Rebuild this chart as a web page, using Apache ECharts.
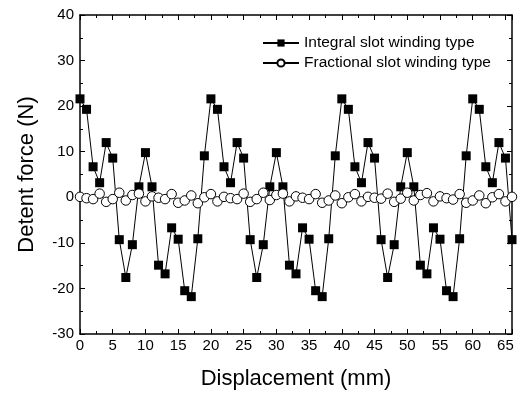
<!DOCTYPE html>
<html>
<head>
<meta charset="utf-8">
<script src="https://cdn.jsdelivr.net/npm/echarts@6/dist/echarts.min.js"></script>
<style>html,body{margin:0;padding:0;background:#fff;}#c{width:523px;height:396px;}</style>
</head>
<body>
<div id="c"></div>
<script>
var displacement = [0,1,2,3,4,5,6,7,8,9,10,11,12,13,14,15,16,17,18,19,20,21,22,23,24,25,26,27,28,29,30,31,32,33,34,35,36,37,38,39,40,41,42,43,44,45,46,47,48,49,50,51,52,53,54,55,56,57,58,59,60,61,62,63,64,65,66];
var integralSlot = [21.6,19.3,6.7,3.2,12.0,8.6,-9.3,-17.6,-10.4,2.3,9.8,2.3,-14.9,-16.8,-6.7,-9.2,-20.5,-21.8,-9.1,9.1,
  21.6,19.3,6.7,3.2,12.0,8.6,-9.3,-17.6,-10.4,2.3,9.8,2.3,-14.9,-16.8,-6.7,-9.2,-20.5,-21.8,-9.1,9.1,
  21.6,19.3,6.7,3.2,12.0,8.6,-9.3,-17.6,-10.4,2.3,9.8,2.3,-14.9,-16.8,-6.7,-9.2,-20.5,-21.8,-9.1,9.1,
  21.6,19.3,6.7,3.2,12.0,8.6,-9.3];
var fractionalSlot = [0.1,-0.2,-0.4,0.8,-1.0,-0.4,1.0,-0.7,0.5,0.8,-0.9,0.2,-0.1,-0.4,0.7,-1.2,-0.7,0.4,-1.3,0.0,0.7,-0.9,
  0.1,-0.2,-0.4,0.8,-1.0,-0.4,1.0,-0.6,0.5,0.8,-0.9,0.2,-0.1,-0.4,0.7,-1.2,-0.7,0.4,-1.3,0.0,0.7,-0.9,
  0.1,-0.1,-0.3,0.8,-1.0,-0.3,1.0,-0.7,0.5,0.9,-0.9,0.2,-0.2,-0.5,0.7,-1.2,-0.7,0.4,-1.3,0.0,0.7,-0.9,
  0.1];
var seriesNames = ['Integral slot winding type','Fractional slot winding type'];

function pairs(xs, ys){ return xs.map(function(x,i){ return [x, ys[i]]; }); }

var font = 'Liberation Sans, Arial, sans-serif';
var axisCommon = {
  axisLine:{show:true, onZero:false, lineStyle:{color:'#000', width:1.5}},
  axisTick:{show:true, inside:true, length:5, lineStyle:{color:'#000', width:1}},
  minorTick:{show:true, splitNumber:2, length:3, lineStyle:{color:'#000', width:1}},
  splitLine:{show:false}
};
function merge(a,b){ var o={}; for(var k in a) o[k]=a[k]; for(var k2 in b) o[k2]=b[k2]; return o; }

var chart = echarts.init(document.getElementById('c'), null, {renderer:'canvas'});
chart.setOption({
  animation:false,
  backgroundColor:'#fff',
  grid:{left:80, right:11, top:15, bottom:62, containLabel:false},
  legend:{
    orient:'vertical', left:262, top:35, padding:0, itemGap:4, itemWidth:36, itemHeight:9,
    textStyle:{fontFamily:font, fontSize:15.5, color:'#000'},
    data:seriesNames
  },
  xAxis:[
    merge(axisCommon, {type:'value', min:0, max:66, interval:5, position:'bottom',
      name:'Displacement (mm)', nameLocation:'middle', nameGap:34,
      nameTextStyle:{fontFamily:font, fontSize:22, color:'#000'},
      axisLabel:{show:true, showMaxLabel:false, margin:4, fontFamily:font, fontSize:15, color:'#000'}}),
    merge(axisCommon, {type:'value', min:0, max:66, interval:5, position:'top',
      axisLabel:{show:false}})
  ],
  yAxis:[
    merge(axisCommon, {type:'value', min:-30, max:40, interval:10, position:'left',
      name:'Detent force (N)', nameLocation:'middle', nameGap:42,
      nameTextStyle:{fontFamily:font, fontSize:22, color:'#000'},
      axisLabel:{show:true, margin:6, fontFamily:font, fontSize:15, color:'#000'}}),
    merge(axisCommon, {type:'value', min:-30, max:40, interval:10, position:'right',
      axisLabel:{show:false}})
  ],
  series:[
    {name:seriesNames[0], type:'line', data:pairs(displacement, integralSlot),
      symbol:'rect', symbolSize:9, showAllSymbol:true,
      lineStyle:{color:'#000', width:1},
      itemStyle:{color:'#000', borderColor:'#000', borderWidth:0}},
    {name:seriesNames[1], type:'line', data:pairs(displacement, fractionalSlot),
      symbol:'circle', symbolSize:9.5, showAllSymbol:true,
      lineStyle:{color:'#000', width:1},
      itemStyle:{color:'#fff', borderColor:'#000', borderWidth:1}}
  ]
});
</script>
</body>
</html>
